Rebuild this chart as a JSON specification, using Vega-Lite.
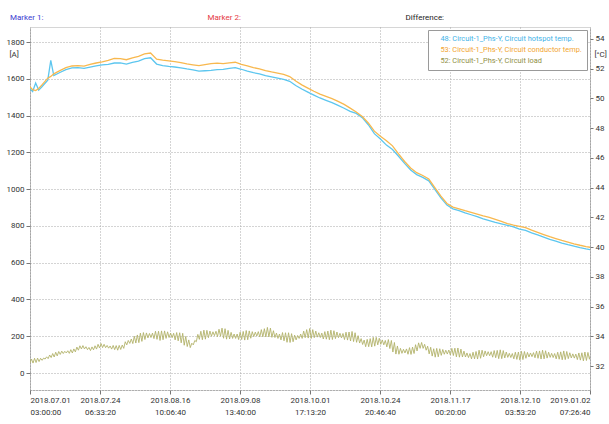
{
"$schema": "https://vega.github.io/schema/vega-lite/v6.json",
"width": 560, "height": 363,
"autosize": {"type": "none"},
"padding": {"left": 30, "top": 27, "right": 19, "bottom": 34},
"background": "white",
"title": {"text": "Marker 1:", "anchor": "start", "frame": "group", "dx": -20, "dy": 15, "offset": 6, "fontSize": 8, "fontWeight": "normal", "color": "#3b3bd0", "font": "Roboto"},
"config": {
  "font": "Roboto",
  "view": {"stroke": "#d6d6d6"},
  "axis": {"labelFont": "Roboto", "labelFontSize": 8, "labelColor": "#333333", "titleFont": "Roboto", "titleFontWeight": "normal", "titleFontSize": 8, "titleColor": "#333333", "tickColor": "#777777", "domainColor": "#888888", "domainDash": [1, 2], "gridColor": "#a8a8a8", "gridDash": [1, 2]},
  "legend": {"labelFont": "Roboto"}
},
"datasets": {
"temp": [
{"t":"2018-07-01","c":50.79,"h":50.66},{"t":"2018-07-02","c":50.58,"h":50.45},{"t":"2018-07-03","c":50.52,"h":51.02},{"t":"2018-07-04","c":50.66,"h":50.55},{"t":"2018-07-05","c":50.88,"h":50.76},{"t":"2018-07-07","c":51.35,"h":51.22},{"t":"2018-07-08","c":51.47,"h":52.55},{"t":"2018-07-09","c":51.64,"h":51.52},
{"t":"2018-07-11","c":51.86,"h":51.73},{"t":"2018-07-13","c":52.06,"h":51.93},{"t":"2018-07-15","c":52.17,"h":52.04},{"t":"2018-07-17","c":52.20,"h":52.06},{"t":"2018-07-19","c":52.16,"h":52.01},{"t":"2018-07-21","c":52.27,"h":52.10},{"t":"2018-07-23","c":52.37,"h":52.17},{"t":"2018-07-25","c":52.45,"h":52.24},{"t":"2018-07-27","c":52.54,"h":52.28},{"t":"2018-07-29","c":52.68,"h":52.37},{"t":"2018-07-31","c":52.67,"h":52.38},
{"t":"2018-08-02","c":52.59,"h":52.30},{"t":"2018-08-04","c":52.72,"h":52.42},{"t":"2018-08-06","c":52.82,"h":52.50},{"t":"2018-08-08","c":52.98,"h":52.66},{"t":"2018-08-10","c":53.04,"h":52.72},{"t":"2018-08-12","c":52.63,"h":52.30},{"t":"2018-08-14","c":52.57,"h":52.20},{"t":"2018-08-16","c":52.52,"h":52.14},{"t":"2018-08-18","c":52.46,"h":52.10},{"t":"2018-08-20","c":52.40,"h":52.04},{"t":"2018-08-22","c":52.31,"h":51.97},{"t":"2018-08-24","c":52.25,"h":51.91},{"t":"2018-08-26","c":52.19,"h":51.83},{"t":"2018-08-28","c":52.26,"h":51.85},{"t":"2018-08-30","c":52.33,"h":51.87},
{"t":"2018-09-01","c":52.36,"h":51.92},{"t":"2018-09-03","c":52.33,"h":51.94},{"t":"2018-09-05","c":52.38,"h":52.01},{"t":"2018-09-07","c":52.42,"h":52.06},{"t":"2018-09-09","c":52.28,"h":51.95},{"t":"2018-09-11","c":52.17,"h":51.83},{"t":"2018-09-13","c":52.06,"h":51.72},{"t":"2018-09-15","c":51.98,"h":51.64},{"t":"2018-09-17","c":51.86,"h":51.52},{"t":"2018-09-19","c":51.77,"h":51.44},{"t":"2018-09-21","c":51.69,"h":51.36},{"t":"2018-09-23","c":51.60,"h":51.27},{"t":"2018-09-25","c":51.46,"h":51.14},{"t":"2018-09-27","c":51.16,"h":50.86},{"t":"2018-09-29","c":50.90,"h":50.62},
{"t":"2018-10-01","c":50.68,"h":50.41},{"t":"2018-10-03","c":50.47,"h":50.21},{"t":"2018-10-05","c":50.28,"h":50.02},{"t":"2018-10-07","c":50.12,"h":49.86},{"t":"2018-10-09","c":49.97,"h":49.70},{"t":"2018-10-11","c":49.79,"h":49.52},{"t":"2018-10-13","c":49.59,"h":49.33},{"t":"2018-10-15","c":49.34,"h":49.12},{"t":"2018-10-17","c":49.08,"h":48.98},{"t":"2018-10-19","c":48.77,"h":48.70},{"t":"2018-10-21","c":48.34,"h":48.22},{"t":"2018-10-23","c":47.79,"h":47.62},{"t":"2018-10-25","c":47.45,"h":47.26},{"t":"2018-10-27","c":47.15,"h":46.85},{"t":"2018-10-29","c":46.80,"h":46.55},{"t":"2018-10-31","c":46.26,"h":46.10},
{"t":"2018-11-02","c":45.75,"h":45.62},{"t":"2018-11-04","c":45.31,"h":45.18},{"t":"2018-11-06","c":45.00,"h":44.87},{"t":"2018-11-08","c":44.81,"h":44.68},{"t":"2018-11-10","c":44.57,"h":44.45},{"t":"2018-11-12","c":43.99,"h":43.88},{"t":"2018-11-14","c":43.42,"h":43.30},{"t":"2018-11-16","c":42.93,"h":42.82},{"t":"2018-11-18","c":42.68,"h":42.57},{"t":"2018-11-20","c":42.57,"h":42.44},{"t":"2018-11-22","c":42.44,"h":42.29},{"t":"2018-11-24","c":42.33,"h":42.17},{"t":"2018-11-26","c":42.22,"h":42.04},{"t":"2018-11-28","c":42.10,"h":41.90},{"t":"2018-11-30","c":41.99,"h":41.78},
{"t":"2018-12-02","c":41.86,"h":41.66},{"t":"2018-12-04","c":41.72,"h":41.56},{"t":"2018-12-06","c":41.58,"h":41.46},{"t":"2018-12-08","c":41.47,"h":41.36},{"t":"2018-12-10","c":41.39,"h":41.21},{"t":"2018-12-12","c":41.30,"h":41.12},{"t":"2018-12-14","c":41.13,"h":40.95},{"t":"2018-12-16","c":40.99,"h":40.81},{"t":"2018-12-18","c":40.84,"h":40.66},{"t":"2018-12-20","c":40.70,"h":40.51},{"t":"2018-12-22","c":40.57,"h":40.39},{"t":"2018-12-24","c":40.44,"h":40.27},{"t":"2018-12-26","c":40.33,"h":40.16},{"t":"2018-12-28","c":40.22,"h":40.06},{"t":"2018-12-30","c":40.12,"h":39.96},
{"t":"2019-01-01","c":40.03,"h":39.87},{"t":"2019-01-03","c":39.96,"h":39.80}
],
"load": [
{"t":"2018-07-01T03:00Z","l":54},{"t":"2018-07-01T15:00Z","l":76},{"t":"2018-07-02T03:00Z","l":54},{"t":"2018-07-02T15:00Z","l":80},{"t":"2018-07-03T03:00Z","l":57},{"t":"2018-07-03T15:00Z","l":81},{"t":"2018-07-04T03:00Z","l":62},{"t":"2018-07-04T15:00Z","l":80},{"t":"2018-07-05T03:00Z","l":69},{"t":"2018-07-05T15:00Z","l":81},{"t":"2018-07-06T03:00Z","l":76},{"t":"2018-07-06T15:00Z","l":88},{"t":"2018-07-07T03:00Z","l":78},{"t":"2018-07-07T15:00Z","l":98},{"t":"2018-07-08T03:00Z","l":84},{"t":"2018-07-08T15:00Z","l":106},{"t":"2018-07-09T03:00Z","l":87},{"t":"2018-07-09T15:00Z","l":113},{"t":"2018-07-10T03:00Z","l":93},{"t":"2018-07-10T15:00Z","l":117},{"t":"2018-07-11T03:00Z","l":101},{"t":"2018-07-11T15:00Z","l":119},{"t":"2018-07-12T03:00Z","l":106},{"t":"2018-07-12T15:00Z","l":118},{"t":"2018-07-13T03:00Z","l":109},{"t":"2018-07-13T15:00Z","l":121},{"t":"2018-07-14T03:00Z","l":107},{"t":"2018-07-14T15:00Z","l":127},{"t":"2018-07-15T03:00Z","l":109},{"t":"2018-07-15T15:00Z","l":131},{"t":"2018-07-16T03:00Z","l":115},{"t":"2018-07-16T15:00Z","l":141},{"t":"2018-07-17T03:00Z","l":124},{"t":"2018-07-17T15:00Z","l":148},{"t":"2018-07-18T03:00Z","l":131},{"t":"2018-07-18T15:00Z","l":149},{"t":"2018-07-19T03:00Z","l":131},{"t":"2018-07-19T15:00Z","l":143},{"t":"2018-07-20T03:00Z","l":127},{"t":"2018-07-20T15:00Z","l":139},{"t":"2018-07-21T03:00Z","l":122},{"t":"2018-07-21T15:00Z","l":142},{"t":"2018-07-22T03:00Z","l":126},{"t":"2018-07-22T15:00Z","l":148},{"t":"2018-07-23T03:00Z","l":130},{"t":"2018-07-23T15:00Z","l":156},{"t":"2018-07-24T03:00Z","l":136},{"t":"2018-07-24T15:00Z","l":160},{"t":"2018-07-25T03:00Z","l":138},{"t":"2018-07-25T15:00Z","l":156},{"t":"2018-07-26T03:00Z","l":138},{"t":"2018-07-26T15:00Z","l":150},{"t":"2018-07-27T03:00Z","l":135},{"t":"2018-07-27T15:00Z","l":147},{"t":"2018-07-28T03:00Z","l":130},{"t":"2018-07-28T15:00Z","l":150},{"t":"2018-07-29T03:00Z","l":127},{"t":"2018-07-29T15:00Z","l":149},{"t":"2018-07-30T03:00Z","l":124},{"t":"2018-07-30T15:00Z","l":150},{"t":"2018-07-31T03:00Z","l":128},{"t":"2018-07-31T15:00Z","l":152},
{"t":"2018-08-01T03:00Z","l":134},{"t":"2018-08-01T15:00Z","l":170},{"t":"2018-08-02T03:00Z","l":153},{"t":"2018-08-02T15:00Z","l":177},{"t":"2018-08-03T03:00Z","l":161},{"t":"2018-08-03T15:00Z","l":185},{"t":"2018-08-04T03:00Z","l":160},{"t":"2018-08-04T15:00Z","l":200},{"t":"2018-08-05T03:00Z","l":163},{"t":"2018-08-05T15:00Z","l":207},{"t":"2018-08-06T03:00Z","l":165},{"t":"2018-08-06T15:00Z","l":217},{"t":"2018-08-07T03:00Z","l":172},{"t":"2018-08-07T15:00Z","l":220},{"t":"2018-08-08T03:00Z","l":182},{"t":"2018-08-08T15:00Z","l":218},{"t":"2018-08-09T03:00Z","l":191},{"t":"2018-08-09T15:00Z","l":215},{"t":"2018-08-10T03:00Z","l":193},{"t":"2018-08-10T15:00Z","l":217},{"t":"2018-08-11T03:00Z","l":187},{"t":"2018-08-11T15:00Z","l":227},{"t":"2018-08-12T03:00Z","l":183},{"t":"2018-08-12T15:00Z","l":227},{"t":"2018-08-13T03:00Z","l":177},{"t":"2018-08-13T15:00Z","l":229},{"t":"2018-08-14T03:00Z","l":181},{"t":"2018-08-14T15:00Z","l":229},{"t":"2018-08-15T03:00Z","l":188},{"t":"2018-08-15T15:00Z","l":224},{"t":"2018-08-16T03:00Z","l":193},{"t":"2018-08-16T15:00Z","l":217},{"t":"2018-08-17T03:00Z","l":192},{"t":"2018-08-17T15:00Z","l":216},{"t":"2018-08-18T03:00Z","l":180},{"t":"2018-08-18T15:00Z","l":220},{"t":"2018-08-19T03:00Z","l":175},{"t":"2018-08-19T15:00Z","l":219},{"t":"2018-08-20T03:00Z","l":164},{"t":"2018-08-20T15:00Z","l":216},{"t":"2018-08-21T03:00Z","l":151},{"t":"2018-08-21T15:00Z","l":199},{"t":"2018-08-22T03:00Z","l":144},{"t":"2018-08-22T15:00Z","l":180},{"t":"2018-08-23T03:00Z","l":138},{"t":"2018-08-23T15:00Z","l":162},{"t":"2018-08-24T03:00Z","l":153},{"t":"2018-08-24T15:00Z","l":177},{"t":"2018-08-25T03:00Z","l":170},{"t":"2018-08-25T15:00Z","l":210},{"t":"2018-08-26T03:00Z","l":183},{"t":"2018-08-26T15:00Z","l":227},{"t":"2018-08-27T03:00Z","l":181},{"t":"2018-08-27T15:00Z","l":233},{"t":"2018-08-28T03:00Z","l":184},{"t":"2018-08-28T15:00Z","l":232},{"t":"2018-08-29T03:00Z","l":192},{"t":"2018-08-29T15:00Z","l":228},{"t":"2018-08-30T03:00Z","l":200},{"t":"2018-08-30T15:00Z","l":224},{"t":"2018-08-31T03:00Z","l":203},{"t":"2018-08-31T15:00Z","l":227},
{"t":"2018-09-01T03:00Z","l":198},{"t":"2018-09-01T15:00Z","l":238},{"t":"2018-09-02T03:00Z","l":200},{"t":"2018-09-02T15:00Z","l":244},{"t":"2018-09-03T03:00Z","l":189},{"t":"2018-09-03T15:00Z","l":241},{"t":"2018-09-04T03:00Z","l":184},{"t":"2018-09-04T15:00Z","l":232},{"t":"2018-09-05T03:00Z","l":185},{"t":"2018-09-05T15:00Z","l":221},{"t":"2018-09-06T03:00Z","l":188},{"t":"2018-09-06T15:00Z","l":212},{"t":"2018-09-07T03:00Z","l":188},{"t":"2018-09-07T15:00Z","l":212},{"t":"2018-09-08T03:00Z","l":182},{"t":"2018-09-08T15:00Z","l":222},{"t":"2018-09-09T03:00Z","l":182},{"t":"2018-09-09T15:00Z","l":226},{"t":"2018-09-10T03:00Z","l":179},{"t":"2018-09-10T15:00Z","l":231},{"t":"2018-09-11T03:00Z","l":181},{"t":"2018-09-11T15:00Z","l":229},{"t":"2018-09-12T03:00Z","l":189},{"t":"2018-09-12T15:00Z","l":225},{"t":"2018-09-13T03:00Z","l":198},{"t":"2018-09-13T15:00Z","l":222},{"t":"2018-09-14T03:00Z","l":201},{"t":"2018-09-14T15:00Z","l":225},{"t":"2018-09-15T03:00Z","l":196},{"t":"2018-09-15T15:00Z","l":236},{"t":"2018-09-16T03:00Z","l":197},{"t":"2018-09-16T15:00Z","l":241},{"t":"2018-09-17T03:00Z","l":196},{"t":"2018-09-17T15:00Z","l":248},{"t":"2018-09-18T03:00Z","l":196},{"t":"2018-09-18T15:00Z","l":244},{"t":"2018-09-19T03:00Z","l":194},{"t":"2018-09-19T15:00Z","l":230},{"t":"2018-09-20T03:00Z","l":193},{"t":"2018-09-20T15:00Z","l":217},{"t":"2018-09-21T03:00Z","l":188},{"t":"2018-09-21T15:00Z","l":212},{"t":"2018-09-22T03:00Z","l":180},{"t":"2018-09-22T15:00Z","l":220},{"t":"2018-09-23T03:00Z","l":175},{"t":"2018-09-23T15:00Z","l":219},{"t":"2018-09-24T03:00Z","l":167},{"t":"2018-09-24T15:00Z","l":219},{"t":"2018-09-25T03:00Z","l":166},{"t":"2018-09-25T15:00Z","l":214},{"t":"2018-09-26T03:00Z","l":170},{"t":"2018-09-26T15:00Z","l":206},{"t":"2018-09-27T03:00Z","l":180},{"t":"2018-09-27T15:00Z","l":204},{"t":"2018-09-28T03:00Z","l":188},{"t":"2018-09-28T15:00Z","l":212},{"t":"2018-09-29T03:00Z","l":188},{"t":"2018-09-29T15:00Z","l":228},{"t":"2018-09-30T03:00Z","l":192},{"t":"2018-09-30T15:00Z","l":236},
{"t":"2018-10-01T03:00Z","l":190},{"t":"2018-10-01T15:00Z","l":242},{"t":"2018-10-02T03:00Z","l":188},{"t":"2018-10-02T15:00Z","l":236},{"t":"2018-10-03T03:00Z","l":192},{"t":"2018-10-03T15:00Z","l":228},{"t":"2018-10-04T03:00Z","l":195},{"t":"2018-10-04T15:00Z","l":219},{"t":"2018-10-05T03:00Z","l":193},{"t":"2018-10-05T15:00Z","l":217},{"t":"2018-10-06T03:00Z","l":185},{"t":"2018-10-06T15:00Z","l":225},{"t":"2018-10-07T03:00Z","l":184},{"t":"2018-10-07T15:00Z","l":228},{"t":"2018-10-08T03:00Z","l":181},{"t":"2018-10-08T15:00Z","l":233},{"t":"2018-10-09T03:00Z","l":182},{"t":"2018-10-09T15:00Z","l":230},{"t":"2018-10-10T03:00Z","l":187},{"t":"2018-10-10T15:00Z","l":223},{"t":"2018-10-11T03:00Z","l":192},{"t":"2018-10-11T15:00Z","l":216},{"t":"2018-10-12T03:00Z","l":191},{"t":"2018-10-12T15:00Z","l":215},{"t":"2018-10-13T03:00Z","l":182},{"t":"2018-10-13T15:00Z","l":222},{"t":"2018-10-14T03:00Z","l":179},{"t":"2018-10-14T15:00Z","l":223},{"t":"2018-10-15T03:00Z","l":174},{"t":"2018-10-15T15:00Z","l":226},{"t":"2018-10-16T03:00Z","l":171},{"t":"2018-10-16T15:00Z","l":219},{"t":"2018-10-17T03:00Z","l":167},{"t":"2018-10-17T15:00Z","l":203},{"t":"2018-10-18T03:00Z","l":163},{"t":"2018-10-18T15:00Z","l":187},{"t":"2018-10-19T03:00Z","l":155},{"t":"2018-10-19T15:00Z","l":179},{"t":"2018-10-20T03:00Z","l":143},{"t":"2018-10-20T15:00Z","l":183},{"t":"2018-10-21T03:00Z","l":143},{"t":"2018-10-21T15:00Z","l":187},{"t":"2018-10-22T03:00Z","l":142},{"t":"2018-10-22T15:00Z","l":194},{"t":"2018-10-23T03:00Z","l":146},{"t":"2018-10-23T15:00Z","l":194},{"t":"2018-10-24T03:00Z","l":153},{"t":"2018-10-24T15:00Z","l":189},{"t":"2018-10-25T03:00Z","l":156},{"t":"2018-10-25T15:00Z","l":180},{"t":"2018-10-26T03:00Z","l":153},{"t":"2018-10-26T15:00Z","l":177},{"t":"2018-10-27T03:00Z","l":142},{"t":"2018-10-27T15:00Z","l":182},{"t":"2018-10-28T03:00Z","l":133},{"t":"2018-10-28T15:00Z","l":177},{"t":"2018-10-29T03:00Z","l":114},{"t":"2018-10-29T15:00Z","l":166},{"t":"2018-10-30T03:00Z","l":103},{"t":"2018-10-30T15:00Z","l":147},{"t":"2018-10-31T03:00Z","l":102},{"t":"2018-10-31T15:00Z","l":134},
{"t":"2018-11-01T03:00Z","l":107},{"t":"2018-11-01T15:00Z","l":129},{"t":"2018-11-02T03:00Z","l":109},{"t":"2018-11-02T15:00Z","l":131},{"t":"2018-11-03T03:00Z","l":102},{"t":"2018-11-03T15:00Z","l":138},{"t":"2018-11-04T03:00Z","l":101},{"t":"2018-11-04T15:00Z","l":141},{"t":"2018-11-05T03:00Z","l":106},{"t":"2018-11-05T15:00Z","l":154},{"t":"2018-11-06T03:00Z","l":120},{"t":"2018-11-06T15:00Z","l":164},{"t":"2018-11-07T03:00Z","l":134},{"t":"2018-11-07T15:00Z","l":166},{"t":"2018-11-08T03:00Z","l":134},{"t":"2018-11-08T15:00Z","l":156},{"t":"2018-11-09T03:00Z","l":124},{"t":"2018-11-09T15:00Z","l":146},{"t":"2018-11-10T03:00Z","l":104},{"t":"2018-11-10T15:00Z","l":140},{"t":"2018-11-11T03:00Z","l":92},{"t":"2018-11-11T15:00Z","l":132},{"t":"2018-11-12T03:00Z","l":86},{"t":"2018-11-12T15:00Z","l":134},{"t":"2018-11-13T03:00Z","l":88},{"t":"2018-11-13T15:00Z","l":132},{"t":"2018-11-14T03:00Z","l":96},{"t":"2018-11-14T15:00Z","l":128},{"t":"2018-11-15T03:00Z","l":102},{"t":"2018-11-15T15:00Z","l":124},{"t":"2018-11-16T03:00Z","l":103},{"t":"2018-11-16T15:00Z","l":125},{"t":"2018-11-17T03:00Z","l":98},{"t":"2018-11-17T15:00Z","l":134},{"t":"2018-11-18T03:00Z","l":95},{"t":"2018-11-18T15:00Z","l":135},{"t":"2018-11-19T03:00Z","l":88},{"t":"2018-11-19T15:00Z","l":136},{"t":"2018-11-20T03:00Z","l":86},{"t":"2018-11-20T15:00Z","l":130},{"t":"2018-11-21T03:00Z","l":87},{"t":"2018-11-21T15:00Z","l":119},{"t":"2018-11-22T03:00Z","l":87},{"t":"2018-11-22T15:00Z","l":109},{"t":"2018-11-23T03:00Z","l":84},{"t":"2018-11-23T15:00Z","l":106},{"t":"2018-11-24T03:00Z","l":77},{"t":"2018-11-24T15:00Z","l":113},{"t":"2018-11-25T03:00Z","l":77},{"t":"2018-11-25T15:00Z","l":117},{"t":"2018-11-26T03:00Z","l":76},{"t":"2018-11-26T15:00Z","l":124},{"t":"2018-11-27T03:00Z","l":80},{"t":"2018-11-27T15:00Z","l":124},{"t":"2018-11-28T03:00Z","l":88},{"t":"2018-11-28T15:00Z","l":120},{"t":"2018-11-29T03:00Z","l":94},{"t":"2018-11-29T15:00Z","l":116},{"t":"2018-11-30T03:00Z","l":94},{"t":"2018-11-30T15:00Z","l":116},
{"t":"2018-12-01T03:00Z","l":86},{"t":"2018-12-01T15:00Z","l":122},{"t":"2018-12-02T03:00Z","l":83},{"t":"2018-12-02T15:00Z","l":123},{"t":"2018-12-03T03:00Z","l":78},{"t":"2018-12-03T15:00Z","l":126},{"t":"2018-12-04T03:00Z","l":78},{"t":"2018-12-04T15:00Z","l":122},{"t":"2018-12-05T03:00Z","l":82},{"t":"2018-12-05T15:00Z","l":114},{"t":"2018-12-06T03:00Z","l":85},{"t":"2018-12-06T15:00Z","l":107},{"t":"2018-12-07T03:00Z","l":84},{"t":"2018-12-07T15:00Z","l":106},{"t":"2018-12-08T03:00Z","l":77},{"t":"2018-12-08T15:00Z","l":113},{"t":"2018-12-09T03:00Z","l":74},{"t":"2018-12-09T15:00Z","l":114},{"t":"2018-12-10T03:00Z","l":70},{"t":"2018-12-10T15:00Z","l":118},{"t":"2018-12-11T03:00Z","l":73},{"t":"2018-12-11T15:00Z","l":117},{"t":"2018-12-12T03:00Z","l":80},{"t":"2018-12-12T15:00Z","l":112},{"t":"2018-12-13T03:00Z","l":87},{"t":"2018-12-13T15:00Z","l":109},{"t":"2018-12-14T03:00Z","l":89},{"t":"2018-12-14T15:00Z","l":111},{"t":"2018-12-15T03:00Z","l":83},{"t":"2018-12-15T15:00Z","l":119},{"t":"2018-12-16T03:00Z","l":80},{"t":"2018-12-16T15:00Z","l":120},{"t":"2018-12-17T03:00Z","l":76},{"t":"2018-12-17T15:00Z","l":124},{"t":"2018-12-18T03:00Z","l":77},{"t":"2018-12-18T15:00Z","l":121},{"t":"2018-12-19T03:00Z","l":81},{"t":"2018-12-19T15:00Z","l":113},{"t":"2018-12-20T03:00Z","l":85},{"t":"2018-12-20T15:00Z","l":107},{"t":"2018-12-21T03:00Z","l":84},{"t":"2018-12-21T15:00Z","l":106},{"t":"2018-12-22T03:00Z","l":77},{"t":"2018-12-22T15:00Z","l":113},{"t":"2018-12-23T03:00Z","l":75},{"t":"2018-12-23T15:00Z","l":115},{"t":"2018-12-24T03:00Z","l":72},{"t":"2018-12-24T15:00Z","l":120},{"t":"2018-12-25T03:00Z","l":73},{"t":"2018-12-25T15:00Z","l":117},{"t":"2018-12-26T03:00Z","l":78},{"t":"2018-12-26T15:00Z","l":110},{"t":"2018-12-27T03:00Z","l":82},{"t":"2018-12-27T15:00Z","l":104},{"t":"2018-12-28T03:00Z","l":81},{"t":"2018-12-28T15:00Z","l":103},{"t":"2018-12-29T03:00Z","l":73},{"t":"2018-12-29T15:00Z","l":109},{"t":"2018-12-30T03:00Z","l":70},{"t":"2018-12-30T15:00Z","l":110},{"t":"2018-12-31T03:00Z","l":66},{"t":"2018-12-31T15:00Z","l":114},
{"t":"2019-01-01T03:00Z","l":68},{"t":"2019-01-01T15:00Z","l":112},{"t":"2019-01-02T03:00Z","l":75},{"t":"2019-01-02T15:00Z","l":107},{"t":"2019-01-03T03:00Z","l":81},{"t":"2019-01-03T15:00Z","l":103}
]
},
"layer": [
{
  "data": {"name": "temp"},
  "transform": [{"fold": ["h", "c"], "as": ["s", "v"]}],
  "mark": {"type": "line", "strokeWidth": 1.3, "clip": true},
  "encoding": {
    "x": {"field": "t", "type": "temporal",
      "scale": {"type": "utc", "domain": [1530414000000, 1546414000000]},
      "axis": {"orient": "top", "values": [1535471000000, 1541128000000],
        "labelExpr": "datum.index < 0.5 ? 'Marker 2:' : 'Difference:'",
        "labelColor": {"expr": "datum.index < 0.5 ? '#e5393f' : '#222222'"},
        "ticks": false, "domain": false, "grid": false, "tickSize": 0, "labelPadding": 6,
        "labelAlign": "left", "labelFlush": false, "labelOverlap": false, "title": null}},
    "y": {"field": "v", "type": "quantitative",
      "scale": {"domain": [30.39, 54.79], "nice": false, "zero": false},
      "axis": {"orient": "right", "values": [32, 34, 36, 38, 40, 42, 44, 46, 48, 50, 52, 54], "grid": false,
        "title": "[°C]", "titleAngle": 0, "titleAlign": "left", "titleBaseline": "middle", "titleX": 4, "titleY": 27,
        "tickSize": 3, "labelPadding": 2}},
    "color": {"field": "s", "type": "nominal",
      "scale": {"domain": ["h", "c", "l"], "range": ["#5cc6ef", "#f8b84e", "#b2b26a"]},
      "legend": {"title": null, "orient": "top-right", "offset": 3, "padding": 5,
        "strokeColor": "#9a9a9a", "fillColor": "#ffffff", "symbolSize": 0, "symbolStrokeWidth": 0, "symbolOpacity": 0,
        "labelFontSize": 7.4, "labelLimit": 0, "labelOffset": 0, "rowPadding": 2,
        "labelExpr": "datum.value == 'h' ? '48: Circuit-1_Phs-Y, Circuit hotspot temp.' : datum.value == 'c' ? '53: Circuit-1_Phs-Y, Circuit conductor temp.' : '52: Circuit-1_Phs-Y, Circuit load'",
        "labelColor": {"expr": "datum.value == 'h' ? '#3fb3e8' : datum.value == 'c' ? '#f2a530' : '#8f8f45'"}}}
  }
},
{
  "data": {"name": "load"},
  "transform": [{"fold": ["l"], "as": ["s", "v"]}],
  "mark": {"type": "line", "strokeWidth": 0.9, "clip": true},
  "encoding": {
    "x": {"field": "t", "type": "temporal",
      "axis": {"orient": "bottom",
        "values": [1530414000000, 1532414000000, 1534414000000, 1536414000000, 1538414000000, 1540414000000, 1542414000000, 1544414000000, 1546414000000],
        "labelExpr": "[utcFormat(datum.value, '%Y.%m.%d'), utcFormat(datum.value, '%H:%M:%S')]",
        "grid": true, "domain": true, "tickSize": 4, "labelPadding": 2, "labelFlush": true, "labelOverlap": false,
        "labelLineHeight": 12.5, "labelBaseline": "top", "title": null}},
    "y": {"field": "v", "type": "quantitative",
      "scale": {"domain": [-92.4, 1881.6], "nice": false, "zero": false},
      "axis": {"orient": "left", "values": [0, 200, 400, 600, 800, 1000, 1200, 1400, 1600, 1800], "grid": true, "format": "d",
        "title": "[A]", "titleAngle": 0, "titleAlign": "left", "titleBaseline": "middle", "titleX": -21, "titleY": 27,
        "tickSize": 4, "labelPadding": 2}},
    "color": {"field": "s", "type": "nominal"}
  }
}
],
"resolve": {"scale": {"y": "independent"}, "axis": {"x": "independent"}}
}
